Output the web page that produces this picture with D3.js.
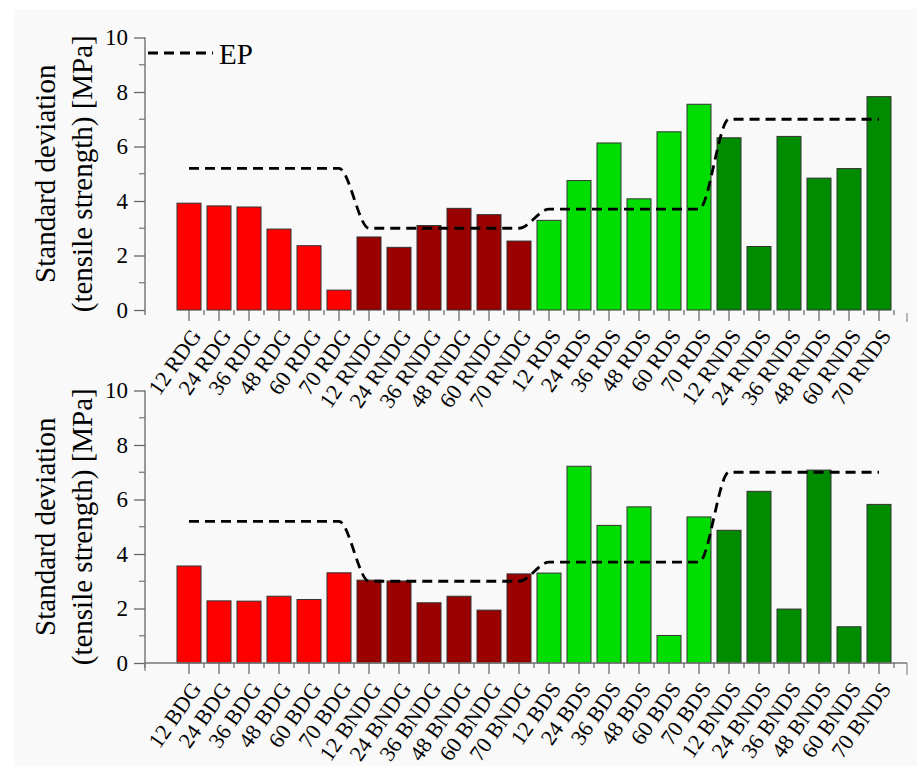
<!DOCTYPE html>
<html>
<head>
<meta charset="utf-8">
<script src="https://cdn.jsdelivr.net/npm/d3@7"></script>
<style>
  body { margin: 0; background: #ffffff; }
  svg { display: block; }
  text { font-family: "Liberation Serif", "Times New Roman", serif; fill: #000; }
</style>
</head>
<body>
<script>
// categorias de cada panel
let topLabels = ["12 RDG", "24 RDG", "36 RDG", "48 RDG", "60 RDG", "70 RDG",
  "12 RNDG", "24 RNDG", "36 RNDG", "48 RNDG", "60 RNDG", "70 RNDG",
  "12 RDS", "24 RDS", "36 RDS", "48 RDS", "60 RDS", "70 RDS",
  "12 RNDS", "24 RNDS", "36 RNDS", "48 RNDS", "60 RNDS", "70 RNDS"];
let bottomLabels = ["12 BDG", "24 BDG", "36 BDG", "48 BDG", "60 BDG", "70 BDG",
  "12 BNDG", "24 BNDG", "36 BNDG", "48 BNDG", "60 BNDG", "70 BNDG",
  "12 BDS", "24 BDS", "36 BDS", "48 BDS", "60 BDS", "70 BDS",
  "12 BNDS", "24 BNDS", "36 BNDS", "48 BNDS", "60 BNDS", "70 BNDS"];

// desviacion estandar [MPa]
let topValues = [3.92, 3.82, 3.78, 2.97, 2.36, 0.73,
  2.68, 2.30, 3.10, 3.73, 3.50, 2.53,
  3.29, 4.75, 6.13, 4.08, 6.54, 7.55,
  6.32, 2.33, 6.37, 4.84, 5.19, 7.83];
let bottomValues = [3.56, 2.28, 2.27, 2.45, 2.33, 3.31,
  3.04, 3.01, 2.21, 2.45, 1.94, 3.27,
  3.30, 7.22, 5.05, 5.73, 1.01, 5.36,
  4.87, 6.30, 1.98, 7.08, 1.33, 5.82];

// serie EP (linea discontinua)
let epTop = [5.2, 5.2, 5.2, 5.2, 5.2, 5.2, 3.0, 3.0, 3.0, 3.0, 3.0, 3.0,
  3.7, 3.7, 3.7, 3.7, 3.7, 3.7, 7.0, 7.0, 7.0, 7.0, 7.0, 7.0];
let epBottom = [5.2, 5.2, 5.2, 5.2, 5.2, 5.2, 3.0, 3.0, 3.0, 3.0, 3.0, 3.0,
  3.7, 3.7, 3.7, 3.7, 3.7, 3.7, 7.0, 7.0, 7.0, 7.0, 7.0, 7.0];

let groupColors = ["#ff0000", "#990000", "#00dd00", "#008c00"];
let yTicks = [0, 2, 4, 6, 8, 10];

let W = 917, H = 766;
let svg = d3.select("body").append("svg").attr("width", W).attr("height", H);

svg.append("rect").attr("x", 14).attr("y", 9)
  .attr("width", W - 14).attr("height", H - 9).attr("fill", "#f9f9f9");

function panel(labels, values, ep, y0, legend) {
  let g = svg.append("g");
  let x = d3.scaleBand().domain(labels).range([174, 894])
    .paddingInner(0.2).paddingOuter(0.1);
  let y = d3.scaleLinear().domain([0, 10]).range([y0, y0 - 272.5]);
  let xAxisLeft = 145, xAxisRight = 907;

  // barras
  g.selectAll("rect.bar")
    .data(values)
    .enter()
    .append("rect")
    .attr("class", "bar")
    .attr("x", (d, i) => x(labels[i]))
    .attr("y", d => y(d))
    .attr("width", x.bandwidth())
    .attr("height", d => y(0) - y(d))
    .attr("fill", (d, i) => groupColors[Math.floor(i / 6)])
    .attr("stroke", "#333")
    .attr("stroke-width", 1);

  // eje y
  let yAxis = d3.axisLeft(y).tickValues(yTicks).tickSize(11).tickPadding(6);
  let ya = g.append("g").attr("transform", "translate(" + xAxisLeft + ",0)").call(yAxis);
  ya.attr("font-family", null);
  ya.select(".domain").remove();
  ya.selectAll(".tick line").attr("stroke", "#666").attr("stroke-width", 1.3);
  ya.selectAll(".tick text").attr("font-size", 23);
  g.append("line")
    .attr("x1", xAxisLeft).attr("x2", xAxisLeft)
    .attr("y1", y(10)).attr("y2", y(0) + 5)
    .attr("stroke", "#666").attr("stroke-width", 1.3);
  g.selectAll("line.minor")
    .data([1, 3, 5, 7, 9])
    .enter()
    .append("line")
    .attr("class", "minor")
    .attr("x1", xAxisLeft - 6).attr("x2", xAxisLeft)
    .attr("y1", d => y(d)).attr("y2", d => y(d))
    .attr("stroke", "#777").attr("stroke-width", 1.2);

  // eje x
  if (!legend) {
    g.append("line")
      .attr("x1", xAxisLeft).attr("x2", xAxisRight)
      .attr("y1", y(0)).attr("y2", y(0))
      .attr("stroke", "#777").attr("stroke-width", 1.3);
    g.append("line")
      .attr("x1", xAxisLeft).attr("x2", xAxisLeft)
      .attr("y1", y(0)).attr("y2", y(0) + 8)
      .attr("stroke", "#777").attr("stroke-width", 1.2);
  }
  g.append("line")
    .attr("x1", xAxisRight).attr("x2", xAxisRight)
    .attr("y1", y(0) + (legend ? 3 : 0)).attr("y2", y(0) + 12)
    .attr("stroke", "#888").attr("stroke-width", 1.2);
  g.selectAll("line.xmajor")
    .data(labels)
    .enter()
    .append("line")
    .attr("class", "xmajor")
    .attr("x1", d => x(d) + x.bandwidth() / 2)
    .attr("x2", d => x(d) + x.bandwidth() / 2)
    .attr("y1", y(0)).attr("y2", y(0) + 11)
    .attr("stroke", "#555").attr("stroke-width", 1.1);
  g.selectAll("line.xminor")
    .data(labels)
    .enter()
    .append("line")
    .attr("class", "xminor")
    .attr("x1", d => x(d) + x.bandwidth() + x.step() * 0.1)
    .attr("x2", d => x(d) + x.bandwidth() + x.step() * 0.1)
    .attr("y1", y(0)).attr("y2", y(0) + 5)
    .attr("stroke", "#555").attr("stroke-width", 1.1);

  g.selectAll("text.xlab")
    .data(labels)
    .enter()
    .append("text")
    .attr("class", "xlab")
    .attr("text-anchor", "end")
    .attr("font-size", 22)
    .attr("transform", d => "translate(" + (x(d) + x.bandwidth() / 2 + 13) + "," + (y(0) + 26) + ") rotate(-55)")
    .text(d => d);

  // titulo eje y
  let yc = (y(0) + y(10)) / 2;
  g.append("text")
    .attr("text-anchor", "middle").attr("font-size", 29)
    .attr("transform", "translate(55," + yc + ") rotate(-90)")
    .text("Standard deviation");
  g.append("text")
    .attr("text-anchor", "middle").attr("font-size", 29)
    .attr("transform", "translate(92," + yc + ") rotate(-90)")
    .text("(tensile strength) [MPa]");

  // linea EP
  let line = d3.line()
    .x((d, i) => x(labels[i]) + x.bandwidth() / 2)
    .y(d => y(d))
    .curve(d3.curveMonotoneX);
  g.append("path")
    .datum(ep)
    .attr("d", line)
    .attr("fill", "none")
    .attr("stroke", "#000")
    .attr("stroke-width", 2.8)
    .attr("stroke-dasharray", "10,6");

  if (legend) {
    g.append("line")
      .attr("x1", 148).attr("x2", 213)
      .attr("y1", 53).attr("y2", 53)
      .attr("stroke", "#000").attr("stroke-width", 2.8)
      .attr("stroke-dasharray", "10,6");
    g.append("text")
      .attr("x", 219).attr("y", 64)
      .attr("font-size", 29)
      .text("EP");
  }
}

panel(topLabels, topValues, epTop, 310, true);
panel(bottomLabels, bottomValues, epBottom, 663, false);
</script>
</body>
</html>
